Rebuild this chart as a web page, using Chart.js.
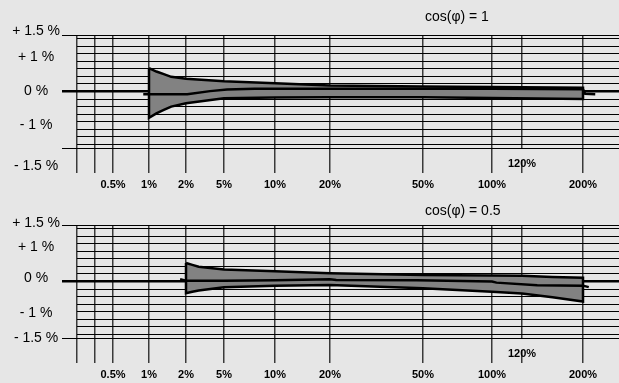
<!DOCTYPE html>
<html>
<head>
<meta charset="utf-8">
<script src="https://cdn.jsdelivr.net/npm/chart.js"></script>
<style>
  html, body { margin: 0; padding: 0; background: #e6e6e6; }
  body { width: 619px; height: 383px; overflow: hidden; }
  canvas { display: block; }
</style>
</head>
<body>
<canvas id="pf1" width="619" height="190"></canvas>
<canvas id="pf05" width="619" height="190"></canvas>
<script>
// axes: load in % of rated current, error in %
const xGridLoads = [0.1, 0.2, 0.5, 1, 2, 5, 10, 20, 50, 100, 120, 200];
const xLabelLoads = [0.5, 1, 2, 5, 10, 20, 50, 100, 200];
const xLabelTexts = ['0.5%', '1%', '2%', '5%', '10%', '20%', '50%', '100%', '200%'];
const yGrid = [-1.5, -1.4, -1.2, -1.0, -0.8, -0.6, -0.4, -0.2, 0, 0.2, 0.4, 0.6, 0.8, 1.0, 1.2, 1.4, 1.5];
const yLabelValues = [1.5, 1, 0, -1, -1.5];
const yLabelTexts = ['+ 1.5 %', '+ 1 %', '0 %', '- 1 %', '- 1.5 %'];

// cos(phi) = 1
const limitLoads1 = [1, 1.2, 1.4, 1.6, 2, 5, 10, 20, 50, 100, 200];
const upper1 = [0.62, 0.53, 0.46, 0.39, 0.34, 0.27, 0.22, 0.16, 0.13, 0.12, 0.10];
const lower1 = [-0.70, -0.58, -0.49, -0.40, -0.31, -0.18, -0.16, -0.15, -0.15, -0.17, -0.20];
const curveLoads1 = [0.92, 2.1, 3.9, 5.3, 8, 20, 50, 100, 200, 203, 217];
const curve1 = [-0.07, -0.07, 0.01, 0.05, 0.07, 0.07, 0.07, 0.07, 0.06, -0.06, -0.07];

// cos(phi) = 0.5
const limitLoads2 = [2, 2.5, 3, 5, 10, 20, 50, 100, 120, 160, 200];
const upper2 = [0.49, 0.44, 0.39, 0.32, 0.27, 0.22, 0.17, 0.16, 0.15, 0.12, 0.10];
const lower2 = [-0.31, -0.27, -0.24, -0.15, -0.11, -0.09, -0.18, -0.27, -0.32, -0.42, -0.53];
const curveLoads2 = [1.84, 2, 5, 10, 20, 22, 48, 100, 103, 140, 200, 208];
const curve2 = [0.06, 0.02, 0.02, 0.03, 0.06, 0.04, 0.03, 0.0, -0.03, -0.1, -0.11, -0.15];

// uneven spacing of the load axis (value -> px from the left edge of the plot)
const xStops = [[0.1, 0], [0.2, 18], [0.5, 36], [1, 72], [2, 109], [5, 147], [10, 198],
  [20, 253], [50, 346], [100, 415], [120, 445], [200, 506], [250, 542]];
const xSpan = xStops[xStops.length - 1][1];

const FONT = '"Liberation Sans", Arial, sans-serif';

class PiecewiseScale extends Chart.LinearScale {
  static id = 'piecewise';
  static defaults = {};
  toDecimal(v) {
    const s = xStops;
    if (v <= s[0][0]) return s[0][1] / xSpan;
    for (let i = 1; i < s.length; i++) {
      if (v <= s[i][0]) {
        const t = (v - s[i - 1][0]) / (s[i][0] - s[i - 1][0]);
        return (s[i - 1][1] + t * (s[i][1] - s[i - 1][1])) / xSpan;
      }
    }
    return 1;
  }
  getPixelForValue(v) {
    return v == null ? NaN : this.getPixelForDecimal(this.toDecimal(v));
  }
  getValueForPixel(p) {
    const d = this.getDecimalForPixel(p) * xSpan;
    const s = xStops;
    for (let i = 1; i < s.length; i++) {
      if (d <= s[i][1]) {
        const t = (d - s[i - 1][1]) / (s[i][1] - s[i - 1][1]);
        return s[i - 1][0] + t * (s[i][0] - s[i - 1][0]);
      }
    }
    return s[s.length - 1][0];
  }
}
Chart.register(PiecewiseScale);

// titles and the 120% mark
const annotate = {
  id: 'annotate',
  afterDraw(chart, args, opts) {
    const {ctx, chartArea} = chart;
    const x = chart.scales.x;
    ctx.save();
    ctx.fillStyle = '#000';
    ctx.textBaseline = 'middle';
    ctx.font = '14px ' + FONT;
    ctx.textAlign = 'left';
    ctx.fillText(opts.title, x.getPixelForDecimal(0.642), chartArea.top - opts.titleGap);
    ctx.font = 'bold 11px ' + FONT;
    ctx.textAlign = 'center';
    ctx.fillText(opts.markText, x.getPixelForValue(opts.markLoad), chartArea.bottom + 16);
    ctx.restore();
  }
};

const near = (a, b) => Math.abs(a - b) < 1e-6;
const yIndex = v => yLabelValues.findIndex(l => near(l, v));

function polygon(loads, upper, lower) {
  const pts = loads.map((x, i) => ({x, y: upper[i]}));
  for (let i = loads.length - 1; i >= 0; i--) pts.push({x: loads[i], y: lower[i]});
  pts.push(pts[0]);
  return pts;
}

function makeChart(id, title, titleGap, loads, upper, lower, cLoads, curve, shifts) {
  return new Chart(document.getElementById(id), {
    type: 'line',
    data: {
      datasets: [{
        label: 'measured',
        data: cLoads.map((x, i) => ({x, y: curve[i]})),
        borderColor: '#000',
        borderWidth: 2.5,
        fill: false,
        pointRadius: 0,
        order: 0
      }, {
        label: 'limits',
        data: polygon(loads, upper, lower),
        borderColor: '#000',
        borderWidth: 2.5,
        backgroundColor: '#828282',
        fill: 'shape',
        pointRadius: 0,
        tension: 0,
        order: 1
      }]
    },
    options: {
      responsive: false,
      animation: false,
      events: [],
      layout: {padding: {top: 35, left: 0, right: 0, bottom: 0}},
      plugins: {
        legend: {display: false},
        tooltip: {enabled: false},
        annotate: {title, titleGap, markText: '120%', markLoad: 120}
      },
      scales: {
        x: {
          type: 'piecewise',
          min: 0.1,
          max: 250,
          afterBuildTicks: s => { s.ticks = xGridLoads.map(v => ({value: v})); },
          afterFit: s => { s.height = 42; },
          border: {display: false},
          grid: {
            color: '#3a3a3a',
            lineWidth: 1.5,
            tickLength: 25,
            tickColor: '#3a3a3a',
            tickWidth: 1.5,
            tickBorderDash: c => (c.tick && c.tick.value === 120) ? [0, 12, 13, 40] : []
          },
          ticks: {
            autoSkip: false,
            maxRotation: 0,
            padding: 5,
            color: '#000',
            font: {family: FONT, size: 11, weight: 'bold'},
            callback: v => {
              const i = xLabelLoads.findIndex(l => near(l, v));
              return i < 0 ? '' : xLabelTexts[i];
            }
          }
        },
        y: {
          min: -1.5,
          max: 1.5,
          afterBuildTicks: s => { s.ticks = yGrid.map(v => ({value: v})); },
          afterFit: s => { s.width = 77; },
          border: {display: false},
          grid: {
            color: '#000',
            lineWidth: c => (c.tick && near(c.tick.value, 0)) ? 2.5 : 1,
            tickLength: 15,
            tickColor: c => (c.tick && (near(c.tick.value, 0) || near(Math.abs(c.tick.value), 1.5)))
              ? '#000' : 'rgba(0,0,0,0)',
            tickWidth: c => (c.tick && near(c.tick.value, 0)) ? 2.5 : 1
          },
          ticks: {
            autoSkip: false,
            crossAlign: 'center',
            padding: 2,
            color: '#000',
            font: c => {
              const i = c.tick ? yIndex(c.tick.value) : -1;
              const s = i < 0 ? 0 : shifts[i];
              return {family: FONT, size: 14, lineHeight: s ? (2 * Math.abs(s)) + 'px' : 1.2};
            },
            callback: v => {
              const i = yIndex(v);
              if (i < 0) return '';
              const s = shifts[i];
              if (!s) return yLabelTexts[i];
              return s > 0 ? ['', yLabelTexts[i]] : [yLabelTexts[i], ''];
            }
          }
        }
      }
    },
    plugins: [annotate]
  });
}

makeChart('pf1', 'cos(φ) = 1', 18, limitLoads1, upper1, lower1, curveLoads1, curve1, [-4, 3, 0, -4, 18]);
makeChart('pf05', 'cos(φ) = 0.5', 14, limitLoads2, upper2, lower2, curveLoads2, curve2, [-2, 3, -3, -6, 0]);
</script>
</body>
</html>
